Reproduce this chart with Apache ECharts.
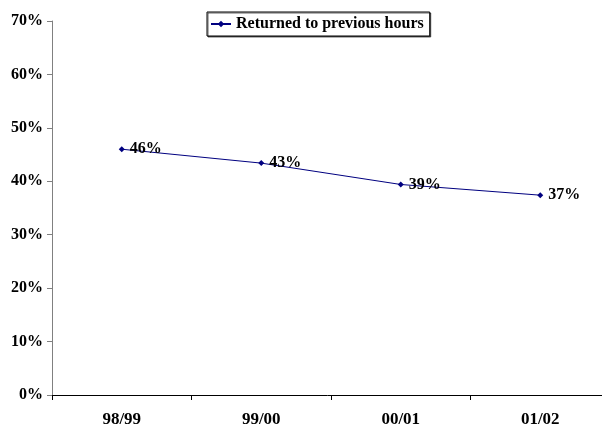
<!DOCTYPE html>
<html>
<head>
<meta charset="utf-8">
<script src="https://cdn.jsdelivr.net/npm/echarts@6/dist/echarts.min.js"></script>
<style>html,body{margin:0;padding:0;background:#fff}#c{width:602px;height:428px}</style>
</head>
<body>
<div id="c"></div>
<script>
const categories = ['98/99', '99/00', '00/01', '01/02'];
const seriesName = 'Returned to previous hours';
const values = [46.0, 43.4, 39.4, 37.4];
const yTicks = [0, 10, 20, 30, 40, 50, 60, 70];

const font = '"Liberation Serif", "Times New Roman", serif';
const chart = echarts.init(document.getElementById('c'));
chart.setOption({
  animation: false,
  backgroundColor: '#fff',
  textStyle: { fontFamily: font },
  legend: {
    data: [seriesName],
    left: 207, top: 12,
    padding: [4, 6, 4, 3],
    itemWidth: 20, itemHeight: 8, itemGap: 4,
    backgroundColor: '#fff',
    borderColor: '#000', borderWidth: 1,
    shadowColor: 'rgba(0,0,0,0.6)', shadowOffsetX: 1, shadowOffsetY: 1,
    textStyle: { fontFamily: font, fontWeight: 'bold', fontSize: 16, color: '#000', padding: [0,0,0,0] }
  },
  grid: { left: 52, width: 558, top: 21, height: 374, containLabel: false, outerBoundsMode: 'none' },
  xAxis: {
    type: 'category', data: categories, boundaryGap: true,
    axisLine: { lineStyle: { color: '#000', width: 1 } },
    axisTick: { show: true, length: 5, lineStyle: { color: '#000' } },
    axisLabel: { fontFamily: font, fontWeight: 'bold', fontSize: 17, color: '#000', margin: 16 },
    splitLine: { show: false }
  },
  yAxis: {
    type: 'value', min: yTicks[0], max: yTicks[yTicks.length - 1], interval: 10,
    axisLine: { show: true, lineStyle: { color: '#808080', width: 1 } },
    axisTick: { show: true, length: 5, lineStyle: { color: '#808080' } },
    axisLabel: { fontFamily: font, fontWeight: 'bold', fontSize: 16, color: '#000', margin: 9,
      formatter: v => v + '%' },
    splitLine: { show: false }
  },
  series: [{
    name: seriesName, type: 'line', data: values,
    symbol: 'diamond', symbolSize: 6,
    lineStyle: { color: '#000080', width: 1 },
    itemStyle: { color: '#000080' },
    label: { show: true, position: 'right', distance: 5, fontFamily: font, fontWeight: 'bold',
      fontSize: 16, color: '#000', formatter: p => Math.round(p.value) + '%' }
  }]
});
</script>
</body>
</html>
